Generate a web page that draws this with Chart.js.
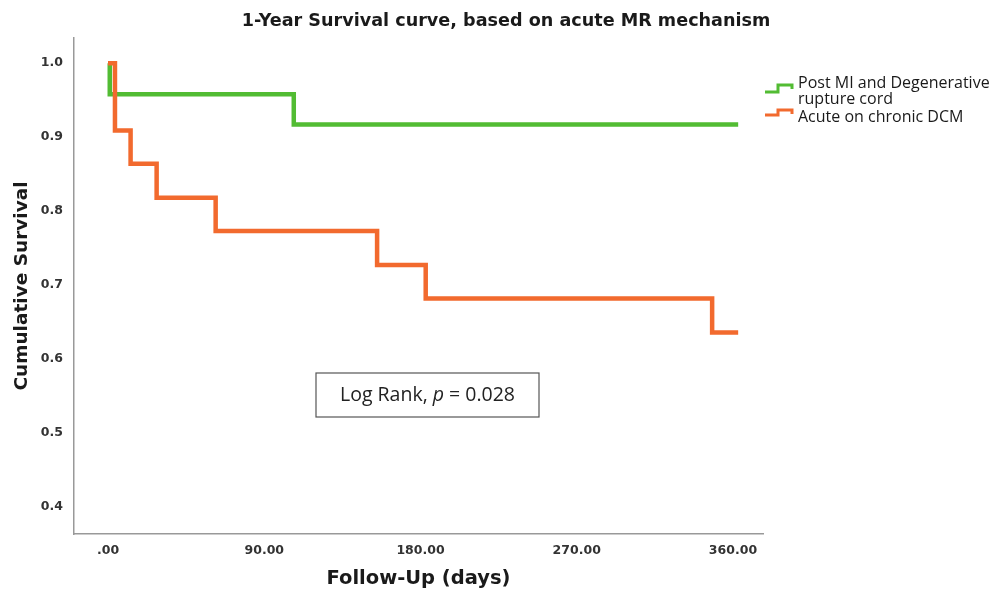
<!DOCTYPE html>
<html>
<head>
<meta charset="utf-8">
<script src="https://cdn.jsdelivr.net/npm/chart.js@4.4.1/dist/chart.umd.min.js"></script>
<style>
html, body { margin: 0; padding: 0; background: #fff; }
</style>
</head>
<body>
<canvas id="myChart" width="993" height="594"></canvas>
<script>
// data
const chartTitle = '1-Year Survival curve, based on acute MR mechanism';
const greenLabel = ['Post MI and Degenerative', 'rupture cord'];
const greenDays = [0, 1, 107, 363];
const greenSurvival = [1.0, 0.958, 0.917, 0.917];
const orangeLabel = ['Acute on chronic DCM'];
const orangeDays = [0, 4, 13, 28, 62, 155, 183, 348, 363];
const orangeSurvival = [1.0, 0.909, 0.864, 0.818, 0.773, 0.727, 0.682, 0.636, 0.636];
const xTicks = [0, 90, 180, 270, 360];
const yTicks = [0.4, 0.5, 0.6, 0.7, 0.8, 0.9, 1.0];
const logRankParts = ['Log Rank, ', 'p', ' = 0.028'];

const GREEN = '#52bc33';
const ORANGE = '#f26a2e';
const tickFont = { family: 'DejaVu Sans', size: 12.5, weight: 'bold' };

function toPoints(days, surv) {
    return days.map((d, i) => ({ x: d, y: surv[i] }));
}

// title, legend and log rank box
const overlay = {
    id: 'overlay',
    afterDraw(chart) {
        const ctx = chart.ctx;
        ctx.save();
        ctx.fillStyle = '#1a1a1a';
        ctx.textBaseline = 'middle';
        ctx.textAlign = 'center';
        ctx.font = 'bold 17.6px "DejaVu Sans"';
        ctx.fillText(chartTitle, 506, 21);

        // legend
        const rows = [
            { color: GREEN, lines: greenLabel, y: 83, low: 92, high: 85 },
            { color: ORANGE, lines: orangeLabel, y: 117, low: 115, high: 110 }
        ];
        ctx.textAlign = 'left';
        ctx.font = '16px "Open Sans"';
        rows.forEach(r => {
            ctx.strokeStyle = r.color;
            ctx.lineWidth = 3;
            ctx.beginPath();
            ctx.moveTo(765, r.low);
            ctx.lineTo(778, r.low);
            ctx.lineTo(778, r.high);
            ctx.lineTo(792, r.high);
            ctx.lineTo(792, r.high + 4);
            ctx.stroke();
            ctx.fillStyle = '#1a1a1a';
            r.lines.forEach((t, i) => ctx.fillText(t, 798, r.y + i * 16));
        });

        // log rank annotation
        const bx = 316, by = 373, bw = 223, bh = 44;
        ctx.strokeStyle = '#555';
        ctx.lineWidth = 1.2;
        ctx.strokeRect(bx, by, bw, bh);
        const fonts = ['19.5px "Open Sans"', 'italic 19.5px "Open Sans"', '19.5px "Open Sans"'];
        let total = 0;
        const widths = logRankParts.map((t, i) => {
            ctx.font = fonts[i];
            const w = ctx.measureText(t).width;
            total += w;
            return w;
        });
        let x = bx + bw / 2 - total / 2;
        ctx.fillStyle = '#222';
        logRankParts.forEach((t, i) => {
            ctx.font = fonts[i];
            ctx.fillText(t, x, by + bh / 2);
            x += widths[i];
        });
        ctx.restore();
    }
};

const config = {
    type: 'line',
    data: {
        datasets: [{
            label: greenLabel.join(' '),
            data: toPoints(greenDays, greenSurvival),
            borderColor: GREEN,
            borderWidth: 4.5,
            stepped: true,
            pointRadius: 0,
            fill: false,
            order: 2
        }, {
            label: orangeLabel.join(' '),
            data: toPoints(orangeDays, orangeSurvival),
            borderColor: ORANGE,
            borderWidth: 4.5,
            stepped: true,
            pointRadius: 0,
            fill: false,
            order: 1
        }]
    },
    options: {
        responsive: false,
        animation: false,
        layout: { padding: { top: 38, right: 230, left: 0, bottom: 0 } },
        plugins: {
            legend: { display: false },
            title: { display: false },
            tooltip: { enabled: false }
        },
        scales: {
            x: {
                type: 'linear',
                min: -19.6,
                max: 377.3,
                grid: { display: false, drawTicks: false },
                border: { color: '#999', width: 1.5 },
                afterBuildTicks: s => { s.ticks = xTicks.map(v => ({ value: v })); },
                ticks: {
                    callback: v => v === 0 ? '.00' : v.toFixed(2),
                    font: tickFont,
                    color: '#333',
                    padding: 9,
                    maxRotation: 0,
                    autoSkip: false
                },
                title: {
                    display: true,
                    text: 'Follow-Up (days)',
                    font: { family: 'DejaVu Sans', size: 19.5, weight: 'bold' },
                    color: '#1a1a1a',
                    padding: { top: 0, bottom: 3 }
                },
                afterFit: s => { s.height = 60; }
            },
            y: {
                min: 0.3635,
                max: 1.034,
                grid: { display: false, drawTicks: false },
                border: { color: '#999', width: 1.5 },
                afterBuildTicks: s => { s.ticks = yTicks.map(v => ({ value: v })); },
                ticks: {
                    callback: v => v.toFixed(1),
                    font: tickFont,
                    color: '#333',
                    padding: 11,
                    autoSkip: false
                },
                title: {
                    display: true,
                    text: 'Cumulative Survival',
                    font: { family: 'DejaVu Sans', size: 18.5, weight: 'bold' },
                    color: '#1a1a1a',
                    padding: { top: 11, bottom: 0 }
                },
                afterFit: s => { s.width = 74; }
            }
        }
    },
    plugins: [overlay]
};

const myChart = new Chart(document.getElementById('myChart'), config);
</script>
</body>
</html>
